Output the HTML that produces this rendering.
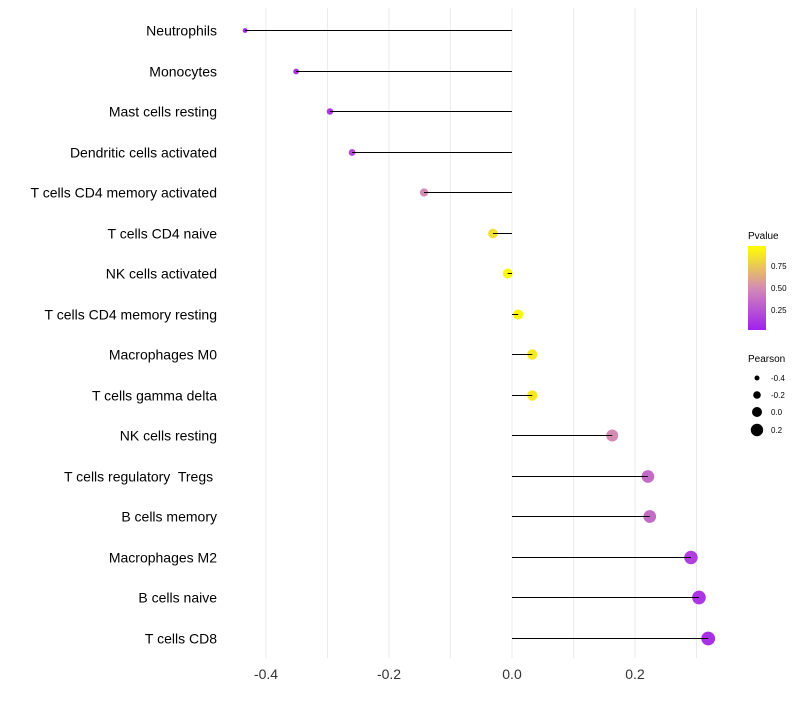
<!DOCTYPE html>
<html><head><meta charset="utf-8"><style>
body{margin:0;background:#fff;font-family:"Liberation Sans",sans-serif;}
text{white-space:pre;}
</style></head><body>
<svg id="c" width="800" height="700" xmlns="http://www.w3.org/2000/svg">
<defs><linearGradient id="pg" x1="0" y1="1" x2="0" y2="0">
<stop offset="0" stop-color="#A020F0"/><stop offset="0.5" stop-color="#D28CB4"/><stop offset="1" stop-color="#FFFF00"/></linearGradient></defs>
<g id="grid"></g><g id="marks"></g><g id="stems"></g><g id="labels"></g>
<g>
<text x="748" y="239" font-size="10" fill="#000">Pvalue</text>
<rect x="748" y="246" width="18" height="84" fill="url(#pg)"/>
<text x="771" y="269" font-size="8">0.75</text>
<text x="771" y="291" font-size="8">0.50</text>
<text x="771" y="313" font-size="8">0.25</text>
</g>
<g>
<text x="748" y="362" font-size="10">Pearson</text>
<circle cx="757" cy="378" r="2.5"/><text x="771" y="381" font-size="8">-0.4</text>
<circle cx="757" cy="395" r="3.8"/><text x="771" y="398" font-size="8">-0.2</text>
<circle cx="757" cy="412" r="5"/><text x="771" y="415" font-size="8">0.0</text>
<circle cx="757" cy="430" r="6.2"/><text x="771" y="433" font-size="8">0.2</text>
</g>
</svg>
<script>
const categories=["Neutrophils","Monocytes","Mast cells resting","Dendritic cells activated","T cells CD4 memory activated","T cells CD4 naive","NK cells activated","T cells CD4 memory resting","Macrophages M0","T cells gamma delta","NK cells resting","T cells regulatory  Tregs ","B cells memory","Macrophages M2","B cells naive","T cells CD8"];
const pearson=[-0.434,-0.351,-0.296,-0.260,-0.143,-0.031,-0.007,0.010,0.033,0.033,0.163,0.221,0.224,0.291,0.304,0.319];
const pvalues=[0.05,0.08,0.1,0.2,0.5,0.85,0.97,0.95,0.9,0.9,0.5,0.35,0.35,0.15,0.1,0.08];
const ticks=[-0.4,-0.2,0.0,0.2];
const NS="http://www.w3.org/2000/svg";
const x=v=>512+v*615;
const y=i=>Math.round(30+i*40.5)+0.5;
const r=v=>2.3+(v+0.45)*6;
function col(p){const a=[160,32,240],m=[210,140,180],b=[255,255,0];let c;if(p<0.5){const t=p/0.5;c=a.map((v,k)=>v+(m[k]-v)*t);}else{const t=(p-0.5)/0.5;c=m.map((v,k)=>v+(b[k]-v)*t);}return `rgb(${c.map(Math.round).join(",")})`;}
function mk(t,at,p){const e=document.createElementNS(NS,t);for(const k in at)e.setAttribute(k,at[k]);document.getElementById(p).appendChild(e);return e;}
for(let g=-0.4;g<=0.31;g+=0.1){const l=mk("line",{x1:x(g),x2:x(g),y1:8,y2:658,stroke:"#ebebeb","stroke-width":1},"grid");

}
ticks.forEach(t=>{const e=mk("text",{x:x(t),y:679,"font-size":14,"text-anchor":"middle",fill:"#333"},"labels");e.textContent=t.toFixed(1);

});
categories.forEach((c,i)=>{const t=mk("text",{x:217,y:y(i)+5,"font-size":14,"text-anchor":"end",fill:"#000"},"labels");t.textContent=c;


const d=mk("circle",{cx:x(pearson[i]),cy:y(i),r:r(pearson[i]),fill:col(pvalues[i])},"marks");


const l=mk("line",{x1:x(0),x2:x(pearson[i]),y1:y(i),y2:y(i),stroke:"#000","stroke-width":1},"stems");

});
</script>
</body></html>
